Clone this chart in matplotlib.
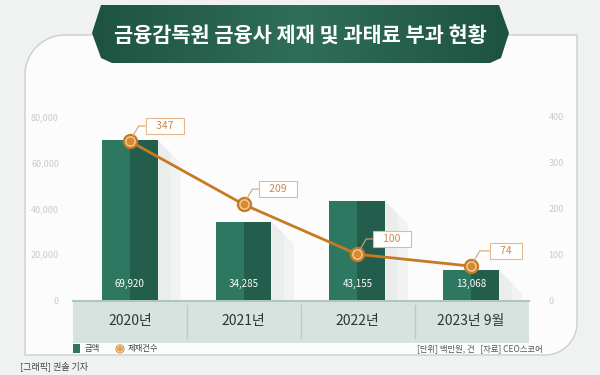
import numpy as np
import matplotlib.pyplot as plt
from matplotlib.colors import LinearSegmentedColormap
from matplotlib.patches import Polygon, Rectangle, Circle

plt.rcParams['font.family'] = ['Noto Sans CJK KR', 'DejaVu Sans']

# data
years = ['2020년', '2021년', '2022년', '2023년 9월']
amount = [69920, 34285, 43155, 13068]     # 금액 (백만원)
count = [347, 209, 100, 74]               # 제재건수 (건)
left_ticks = [0, 20000, 40000, 60000, 80000]
right_ticks = [0, 100, 200, 300, 400]

green_l = '#2E7862'
green_d = '#235E4C'
orange = '#C77A22'

W, H = 600, 375
fig = plt.figure(figsize=(6, 3.75), dpi=100, facecolor='#EFF2F1')

# background axes in pixel units (y down)
bg = fig.add_axes([0, 0, 1, 1], zorder=0)
bg.set_xlim(0, W)
bg.set_ylim(H, 0)
bg.axis('off')

# frame with rounded corners (top-left and bottom-right)
R1, R2 = 40, 32
a1 = np.radians(np.linspace(90, 180, 25))
a2 = np.radians(np.linspace(90, 0, 25))
c1 = (25 + R1, 35 + R1)
c2 = (577 - R2, 355 - R2)
fx = np.concatenate([[92], c1[0] + R1 * np.cos(a1), [25, c2[0]], c2[0] + R2 * np.cos(a2), [577, 508]])
fy = np.concatenate([[35], c1[1] - R1 * np.sin(a1), [355, 355], c2[1] + R2 * np.sin(a2), [35, 35]])
bg.add_patch(Polygon(np.column_stack([fx, fy]), closed=True, facecolor='#FCFCFC', edgecolor='none'))
bg.plot(fx, fy, color='#C9D0CE', lw=1.0)

# title banner
banner = [(101, 5), (499, 5), (509, 33), (501, 58), (490, 63), (112, 63), (101, 58), (92, 33)]
bpatch = Polygon(banner, closed=True, facecolor='none', edgecolor='none')
bg.add_patch(bpatch)
grad = np.abs(np.linspace(-1, 1, 200))[None, :]
im = bg.imshow(grad, cmap=LinearSegmentedColormap.from_list('b', ['#2F6E5A', '#1E5241']),
               extent=(90, 510, 64, 4), aspect='auto', zorder=2)
im.set_clip_path(bpatch)
bg.add_patch(Polygon([(92, 33), (101, 33), (101, 41)], closed=True, facecolor='#A3ACA9', zorder=1))
bg.add_patch(Polygon([(509, 33), (500, 33), (500, 41)], closed=True, facecolor='#A3ACA9', zorder=1))
bg.text(300, 35, '금융감독원 금융사 제재 및 과태료 부과 현황', color='white', fontsize=15,
        fontweight='bold', ha='center', va='center', zorder=3)

# category band
bg.add_patch(Rectangle((73, 300), 456, 43, facecolor='#D6E3DF', edgecolor='none', zorder=1))
bg.plot([73, 529], [300.5, 300.5], color='#AFC6C0', lw=1.5, zorder=2)
for sx in [187, 301, 415]:
    bg.plot([sx, sx], [305, 338], color='#B8CBC6', lw=0.9, zorder=2)

# legend and notes
bg.add_patch(Rectangle((73, 344), 7, 9, facecolor=green_l, edgecolor='none'))
bg.text(85, 349, '금액', fontsize=6, color='#444444', va='center')
bg.add_patch(Circle((120, 349), 4.5, facecolor=orange, edgecolor='none'))
bg.add_patch(Circle((120, 349), 3.2, facecolor='#E8A050', edgecolor='#F6D3A8', lw=0.8))
bg.text(128, 349, '제재건수', fontsize=6, color='#444444', va='center')
bg.text(543, 349, '[단위] 백만원, 건   [자료] CEO스코어', fontsize=6, color='#555555',
        ha='right', va='center')
bg.text(20, 366, '[그래픽] 권솔 기자', fontsize=6.5, color='#444444', va='center')

# main axes
ax = fig.add_axes([73 / W, 1 - 300 / H, 456 / W, 183 / H], zorder=2)
ax.patch.set_alpha(0)
x = np.arange(len(years))
bw = 0.49
for xi, v in zip(x, amount):
    r = xi + bw / 2
    for k, col in enumerate(['#F1F3F2', '#EAEDEC']):
        d = 0.2 - 0.09 * k
        ax.add_patch(Polygon([(r, v), (r + d, v - 50000 * d), (r + d, 0), (r, 0)],
                             closed=True, facecolor=col, edgecolor='none'))
ax.bar(x - bw / 4, amount, width=bw / 2, color=green_l, zorder=2)
ax.bar(x + bw / 4, amount, width=bw / 2, color=green_d, zorder=2)
for xi, v in zip(x, amount):
    ax.text(xi, 7000, f'{v:,}', color='white', fontsize=7, ha='center', va='center', zorder=3)

ax.set_xlim(-0.5, 3.51)
ax.set_ylim(0, 80000)
ax.set_yticks(left_ticks)
ax.set_yticklabels([f'{t:,}' for t in left_ticks])
ax.tick_params(axis='y', length=0, pad=10, labelsize=6.5, labelcolor='#C5CCCA')
ax.set_xticks([])
for s in ax.spines.values():
    s.set_visible(False)

for xi, lab in zip(x, years):
    ax.text(xi, -0.115, lab, transform=ax.get_xaxis_transform(), fontsize=10,
            color='#333333', ha='center', va='center')

ax2 = ax.twinx()
ax2.set_ylim(0, 400)
ax2.set_yticks(right_ticks)
ax2.tick_params(axis='y', length=0, pad=14, labelsize=6.5, labelcolor='#C5CCCA')
for s in ax2.spines.values():
    s.set_visible(False)

ax2.plot(x, count, color=orange, lw=2, zorder=3)
ax2.scatter(x, count, s=100, color=orange, zorder=4)
ax2.scatter(x, count, s=45, color='#D98A30', edgecolor='#F3CE9E', lw=1, zorder=5)
for xi, c in zip(x, count):
    ax2.annotate(f'   {c}   ', (xi, c), xytext=(25, 11), textcoords='offset points',
                 fontsize=7.5, color='#C8894A', ha='center', va='center',
                 bbox=dict(boxstyle='square,pad=0.3', facecolor='white', edgecolor='#E2BA8E', lw=0.8),
                 arrowprops=dict(arrowstyle='-', color='#D9A36A', lw=0.8, shrinkA=0, shrinkB=4,
                                 connectionstyle='angle,angleA=180,angleB=60,rad=0'),
                 zorder=6)

fig.savefig('out.png', dpi=100, facecolor=fig.get_facecolor())
